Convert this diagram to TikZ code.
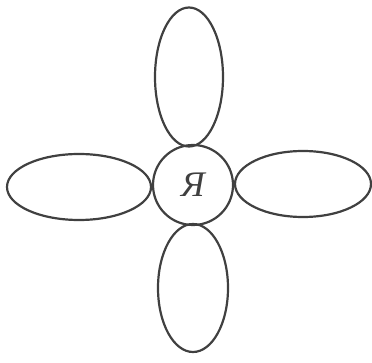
\documentclass[tikz,border=0pt]{standalone}
\usepackage{fontspec}
\newfontfamily\cyrserif{Liberation Serif}
\usetikzlibrary{shapes.geometric}
\definecolor{ink}{HTML}{404040}
\begin{document}
\begin{tikzpicture}[x=1pt,y=-1pt,
  petal/.style={draw=ink,line width=2.2pt,ellipse,inner sep=0pt,minimum width=#1},
  core/.style={draw=ink,line width=2.2pt,circle,inner sep=0pt,minimum size=80pt,
    font=\cyrserif\itshape\fontsize{36}{36}\selectfont,text=ink}]
\useasboundingbox (0,0) rectangle (372,363);
\node[core] (me) at (193,185) {Я};
\node[petal=68pt,minimum height=139pt] (top) at (189,77) {};
\node[petal=70pt,minimum height=128pt] (bottom) at (193,288) {};
\node[petal=144pt,minimum height=66pt] (left) at (79,187) {};
\node[petal=136pt,minimum height=66pt] (right) at (303,184) {};
\end{tikzpicture}
\end{document}
